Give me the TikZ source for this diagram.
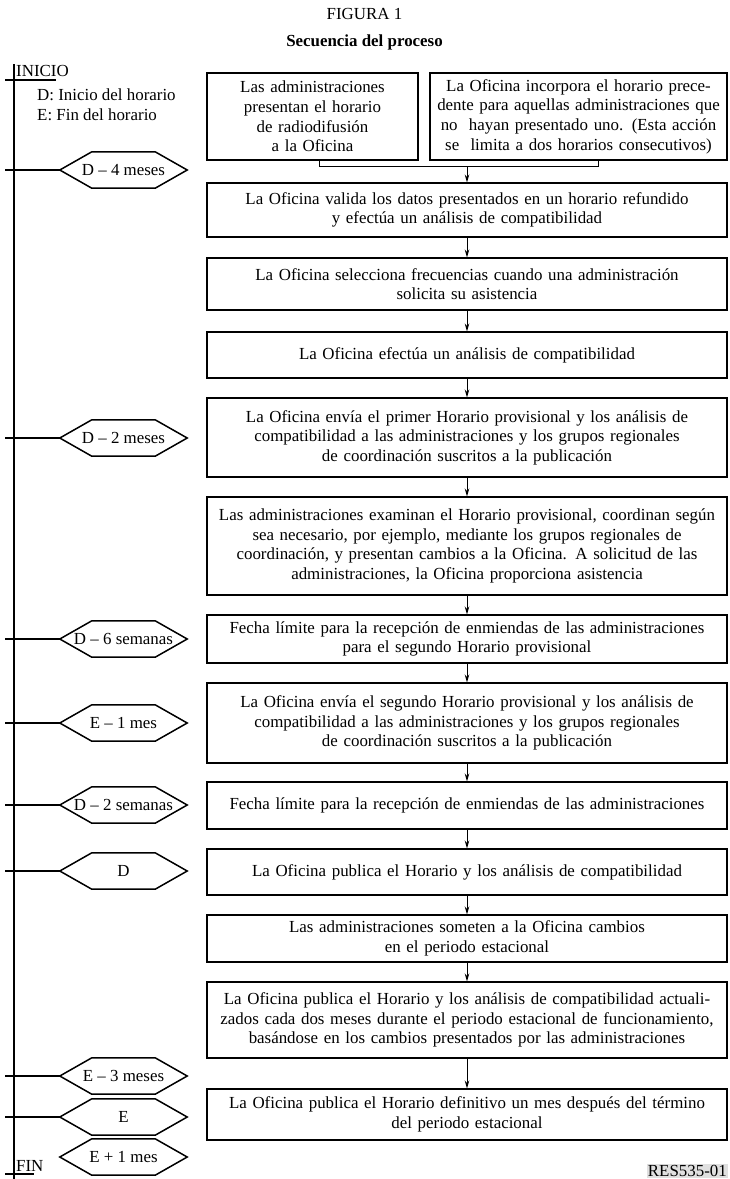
\documentclass[tikz,border=0pt]{standalone}
\usepackage{fontspec}
\setmainfont{Liberation Serif}
\usetikzlibrary{arrows.meta}
\begin{document}
\begin{tikzpicture}[x=1pt, y=-1pt, font=\fontsize{16.9}{19.6}\selectfont, line join=miter, >={Stealth[length=8pt,width=4.5pt]},
	box/.style={draw, line width=1.1pt, inner sep=2pt, align=center, minimum width=520pt, text width=514pt},
	hexa/.style={minimum width=127pt, minimum height=36pt, inner sep=0pt},
	hexline/.style={line width=1.5pt},
	flow/.style={->, line width=0.9pt},
	timeln/.style={line width=1.5pt}]
	\useasboundingbox (0,0) rectangle (729,1179);
	\clip (0,0) rectangle (729,1179);
	% titulo
	\node (fig) at (364.5,14) {FIGURA 1};
	\node (tit) at (364.5,42) {\bfseries Secuencia del proceso};
	% eje de tiempo
	\coordinate (top) at (14,64);
	\coordinate (bot) at (14,1179);
	\coordinate (tl) at (5,0);
	\draw[timeln] (top) -- (bot);
	\node[anchor=south west, inner sep=1pt] (inicio) at (15,78) {INICIO};
	\draw[timeln] (5,80) -- (56,80);
	\node[anchor=south west, inner sep=1pt] (fin) at (15,1173) {FIN};
	\draw[timeln] (5,1174) -- (34,1174);
	\node[anchor=north west, align=left, inner sep=0pt] (leyenda) at (37,89) {D: Inicio del horario\\E: Fin del horario};
	% hitos
	\foreach \name/\yy/\lab in {h1/170/D -- 4 meses, h2/438/D -- 2 meses, h3/639/D -- 6 semanas, h4/723/E -- 1 mes, h5/805/D -- 2 semanas, h6/871/D, h7/1076/E -- 3 meses, h8/1117/E, h9/1157/E + 1 mes}{
		\node[hexa] (\name) at (123.5,\yy) {\lab};
		\draw[hexline] (\name.west) -- ([xshift=32pt]\name.north west) -- ([xshift=-32pt]\name.north east) -- (\name.east) -- ([xshift=-32pt]\name.south east) -- ([xshift=32pt]\name.south west) -- cycle;
	}
	\foreach \name in {h1,h2,h3,h4,h5,h6,h7,h8}
		\draw[timeln] (tl |- \name.west) -- (\name.west);
	% cajas
	\node[box, minimum width=211pt, text width=205pt, minimum height=87pt] (b1) at (312.5,116.5) {Las administraciones\\presentan el horario\\de radiodifusión\\a la Oficina};
	\node[box, minimum width=297pt, text width=291pt, minimum height=87pt] (b2) at (578.5,116.5) {La Oficina incorpora el horario prece-\\dente para aquellas administraciones que\\no\ \ hayan presentado uno. (Esta acción\\se\ \ limita a dos horarios consecutivos)};
	\node[box, minimum height=54pt] (A) at (467,210) {La Oficina valida los datos presentados en un horario refundido\\y efectúa un análisis de compatibilidad};
	\node[box, minimum height=52pt] (B) at (467,284) {La Oficina selecciona frecuencias cuando una administración\\solicita su asistencia};
	\node[box, minimum height=46pt] (C) at (467,355) {La Oficina efectúa un análisis de compatibilidad};
	\node[box, minimum height=79pt] (D) at (467,437.5) {La Oficina envía el primer Horario provisional y los análisis de\\compatibilidad a las administraciones y los grupos regionales\\de coordinación suscritos a la publicación};
	\node[box, minimum height=98pt] (E) at (467,546) {Las administraciones examinan el Horario provisional, coordinan según\\sea necesario, por ejemplo, mediante los grupos regionales de\\coordinación, y presentan cambios a la Oficina. A solicitud de las\\administraciones, la Oficina proporciona asistencia};
	\node[box, minimum height=48pt] (F) at (467,639) {Fecha límite para la recepción de enmiendas de las administraciones\\para el segundo Horario provisional};
	\node[box, minimum height=80pt] (G) at (467,723) {La Oficina envía el segundo Horario provisional y los análisis de\\compatibilidad a las administraciones y los grupos regionales\\de coordinación suscritos a la publicación};
	\node[box, minimum height=47pt] (H) at (467,805.5) {Fecha límite para la recepción de enmiendas de las administraciones};
	\node[box, minimum height=46pt] (I) at (467,872) {La Oficina publica el Horario y los análisis de compatibilidad};
	\node[box, minimum height=47pt] (J) at (467,938.5) {Las administraciones someten a la Oficina cambios\\en el periodo estacional};
	\node[box, minimum height=76pt] (K) at (467,1020) {La Oficina publica el Horario y los análisis de compatibilidad actuali-\\zados cada dos meses durante el periodo estacional de funcionamiento,\\basándose en los cambios presentados por las administraciones};
	\node[box, minimum height=51pt] (L) at (467,1114.5) {La Oficina publica el Horario definitivo un mes después del término\\del periodo estacional};
	% union de las dos primeras cajas
	\coordinate (jl) at (319,166);
	\coordinate (jr) at (598,166);
	\draw[line width=0.9pt] (b1.south -| jl) -- (jl) -- (jr) -- (b2.south -| jr);
	\draw[flow] (jl -| A.north) -- (A.north);
	% flechas
	\draw[flow] (A.south) -- (B.north);
	\draw[flow] (B.south) -- (C.north);
	\draw[flow] (C.south) -- (D.north);
	\draw[flow] (D.south) -- (E.north);
	\draw[flow] (E.south) -- (F.north);
	\draw[flow] (F.south) -- (G.north);
	\draw[flow] (G.south) -- (H.north);
	\draw[flow] (H.south) -- (I.north);
	\draw[flow] (I.south) -- (J.north);
	\draw[flow] (J.south) -- (K.north);
	\draw[flow] (K.south) -- (L.north);
	\node[fill=black!12, anchor=south east, inner sep=1pt] (res) at (728,1178) {RES535-01};
\end{tikzpicture}
\end{document}
